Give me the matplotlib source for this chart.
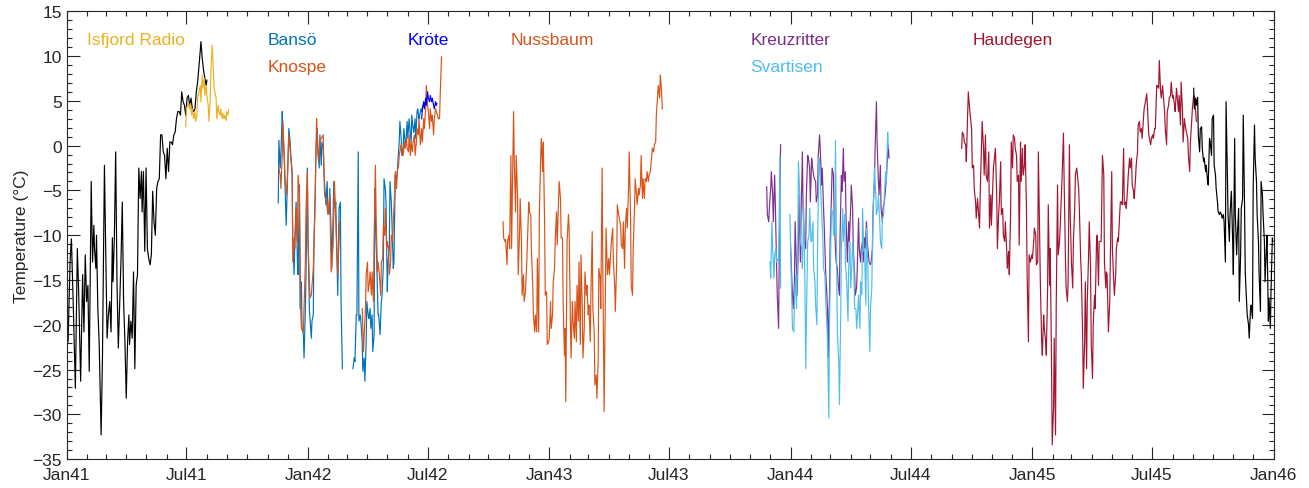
import numpy as np
import matplotlib
matplotlib.use('Agg')
import matplotlib.pyplot as plt
import matplotlib.dates as mdates
from matplotlib.ticker import MultipleLocator

plt.rcParams['font.family'] = ['Liberation Sans', 'DejaVu Sans']

# day numbers counted from 1941-01-01, temperatures in degC
nan = np.nan

isfjord_black_days = [2, 5, 7, 10, 13, 16, 18, 21, 24, 26, 28, 30, 32, 34, 37, 39, 41, 42, 44, 45,
                      47, 49, 52, 54, 57, 61, 63, 65, 67, 69, 70, 72, 74, 76, 78, 82, 84, 86, 88, 90,
                      92, 94, 95, 97, 99, 101, 103, 105, 107, 109, 111, 113, 114, 116, 118, 120, 122, 124, 126, 128,
                      130, 132, 134, 136, 138, 140, 142, 144, 146, 148, 150, 152, 154, 156, 158, 160, 162, 164, 166, 168,
                      170, 172, 174, 176, 178, 180, 182, 184, 186, 188, 190, 192, 194, 196, 198, 201, 203, 205, 207, 209,
                      211, 212]
isfjord_black_temp = [-21.9, -13.0, -10.4, -18.2, -27.1, -11.5, -16.3, -26.3, -14.4, -20.8, -12.2, -17.4, -15.6, -25.2, -4.0, -13.0, -8.9, -11.5, -13.7, -10.0,
                      -18.2, -21.9, -32.3, -23.7, -2.2, -21.5, -18.9, -17.4, -20.8, -10.3, -15.2, -10.3, -0.7, -15.2, -22.6, -13.0, -6.3, -17.4, -21.9, -28.2,
                      -21.9, -18.9, -22.2, -19.6, -21.5, -14.1, -24.9, -15.6, -14.4, -2.5, -5.9, -2.9, -7.4, -2.9, -11.8, -2.5, -11.5, -12.6, -13.3, -12.2,
                      -5.1, -8.5, -10.0, -4.8, -4.0, -3.7, 1.2, 1.2, -0.7, -1.1, -3.7, -0.3, -2.9, 0.4, 0.4, 0.1, 1.2, 1.5, 3.0, 3.8,
                      3.8, 3.4, 6.0, 4.9, 4.5, 3.4, 5.3, 5.6, 4.5, 5.3, 4.1, 3.8, 4.1, 6.0, 7.1, 9.7, 11.6, 9.7, 8.4, 7.5,
                      6.7, 7.3]

isfjord_days = [180, 181, 183, 184, 186, 187, 189, 190, 192, 194, 195, 197, 198, 200, 202, 203, 205, 206, 208, 209,
                211, 212, 214, 215, 217, 218, 220, 221, 223, 224, 226, 227, 229, 230, 232, 233, 235, 236, 238, 239,
                241, 242, 244, 245]
isfjord_temp = [2.1, 4.1, 4.5, 4.7, 4.1, 4.7, 3.4, 4.1, 3.0, 3.8, 2.7, 3.4, 5.3, 6.0, 6.7, 4.9, 7.9, 6.4, 7.5, 5.6,
                6.7, 5.6, 4.5, 2.7, 4.9, 8.2, 11.2, 9.7, 6.4, 6.0, 5.3, 3.0, 4.5, 3.8, 3.4, 4.1, 3.0, 3.6, 3.0, 3.4,
                2.8, 3.8, 3.4, 4.0]

banso_days = [320, 321, 323, 324, 326, 327, 329, 330, 332, 333, 336, 338, 339, 341, 342, 344, 345, 347, 349, 350,
              352, 353, 355, 356, 358, 359, 361, 362, 364, 365, 367, 368, 370, 371, 373, 374, 376, 377, 379, 380,
              382, 383, 385, 386, 388, 389, 391, 392, 394, 395, 397, 398, 400, 401, 403, 404, 406, 407, 409, 410,
              412, 414, 415, 417, 425,
              433, 435, 436, 438, 439, 441, 442, 444, 445, 447, 448, 450, 451, 453, 454, 456, 457, 459, 460, 462,
              463, 465, 466, 468, 469, 471, 472, 474, 476, 477, 479, 480, 482, 483, 485, 486, 488, 489, 491, 492,
              494, 495, 497, 498, 500, 501, 503, 504, 506, 507, 509, 510, 512, 513, 515, 516, 518, 519, 521, 522,
              524, 525, 527, 528, 530, 531, 533, 534, 536, 537, 539]
banso_temp = [-6.4, 0.6, -2.5, -1.1, 3.8, 1.9, -1.1, -4.0, -8.9, -6.3, 1.9, 0.4, -1.1, -2.9, -10.7, -14.4, -10.7, -6.3, -13.0, -14.4,
              -4.4, -18.2, -15.2, -20.4, -21.1, -23.7, -18.2, -14.4, -2.5, -10.0, -18.2, -19.3, -21.5, -19.6, -18.9, -10.7, -5.5, -0.3, 1.9, -0.7,
              -2.5, 1.2, -2.2, 0.4, -0.3, -2.9, -5.5, -6.6, -4.0, -7.0, -7.7, -4.8, -10.0, -13.7, -7.7, -4.0, -7.0, -6.3, -13.0, -16.7,
              -7.0, -6.3, -17.4, -24.9, nan,
              -24.9, -23.7, -24.1, -18.9, -18.9, -0.7, -19.6, -18.9, -19.6, -21.9, -25.2, -23.7, -26.3, -21.9, -17.4, -18.9, -19.3, -18.2, -20.4, -18.9,
              -23.0, -21.1, -4.8, -10.7, -13.0, -18.9, -18.9, -21.1, -17.4, -16.7, -13.3, -3.7, -4.8, -6.3, -16.3, -13.0, -11.5, -4.0, -6.3, -8.5,
              -13.7, -13.0, -3.3, -4.0, -3.3, -1.8, 0.4, 2.7, 0.8, -1.1, -0.3, 1.9, 0.4, 0.1, 2.7, 0.8, 3.0, 1.9, 0.4, 3.4,
              1.9, 1.5, 3.0, 0.8, 3.8, 4.1, 3.0, 3.4, 4.1, 3.8, 4.5]

knospe_days = [321, 323, 324, 326, 327, 329, 330, 333, 336, 339, 341, 342, 344, 345, 347, 349, 350, 352, 354, 355,
               358, 359, 361, 362, 364, 365, 368, 370, 373, 375, 378, 379, 381, 383, 385, 388, 390, 393, 395, 398,
               400, 403, 405, 408, 410, 413, 430,
               447, 449, 450, 452, 453, 455, 456, 458, 459, 461, 462, 464, 465, 467, 468, 470, 471, 473, 475, 476,
               478, 479, 481, 482, 484, 485, 487, 488, 490, 491, 493, 494, 496, 497, 499, 500, 502, 503, 505, 506,
               508, 509, 511, 512, 514, 515, 517, 518, 520, 521, 523, 524, 526, 527, 529, 530, 532, 533, 535, 537,
               538, 540, 541, 543, 544, 546, 547, 549, 550, 552, 553, 555, 556, 558, 559, 561, 562, 564, 565, 567]
knospe_temp = [-2.5, -3.3, -4.8, -1.1, 2.7, -1.1, -3.3, -5.5, 1.2, -1.4, -3.3, -13.0, -10.3, -11.5, -7.0, -10.7, -3.3, -5.5, -18.5, -20.4,
               -20.8, -18.2, -13.0, -7.0, -2.9, -10.7, -17.0, -16.7, -13.7, -8.5, 3.0, 0.8, -1.8, 0.4, 0.8, 1.2, -5.5, -6.3, -7.7, -5.5,
               -14.1, -11.1, -4.0, -10.7, -14.4, -8.5, nan,
               -18.2, -23.0, -21.1, -18.2, -14.4, -13.0, -16.3, -15.2, -14.1, -16.7, -14.1, -17.4, -10.7, -2.2, -7.7, -14.1, -13.0, -14.4, -16.7, -13.0,
               -12.6, -8.9, -10.0, -7.0, -11.5, -10.7, -11.5, -14.4, -13.0, -10.0, -10.7, -8.5, -5.5, -2.9, -4.8, -2.9, -2.2, -1.1, -0.3, 0.1,
               -1.1, -1.1, 0.4, -0.3, 0.8, -0.3, -0.7, 1.2, -1.1, 0.4, -0.7, 0.4, 1.2, -1.1, 0.4, 1.9, 1.2, 3.0, 0.1, 1.9,
               0.4, 3.0, 1.9, 4.1, 6.7, 4.5, 3.8, 1.9, 4.1, 2.7, 3.4, 1.2, 3.0, 4.1, 3.8, 3.4, 3.0, 3.0, 5.6, 9.9]

krote_days = [537, 538, 540, 541, 543, 544, 546, 547, 549, 550, 552, 553, 555, 556, 558, 559, 560]
krote_temp = [3.0, 4.1, 4.9, 4.1, 5.3, 4.5, 6.0, 5.3, 4.9, 5.6, 4.9, 5.3, 4.5, 4.1, 4.9, 4.5, 4.7]

nussbaum_days = [660, 661, 663, 664, 666, 667, 669, 670, 672, 673, 675, 676, 677, 679, 680, 682, 683, 685, 686, 688,
                 689, 691, 692, 694, 696, 697, 699, 700, 702, 703, 705, 706, 708, 709, 711, 712, 714, 715, 717, 718,
                 720, 721, 723, 724, 726, 727, 729, 730, 732, 733, 735, 736, 738, 739, 741, 742, 744, 745, 747, 748,
                 750, 751, 753, 754, 755, 757, 759, 760, 762, 763, 765, 766, 768, 769, 771, 772, 774, 775, 777, 778,
                 780, 781, 783, 784, 786, 787, 789, 790, 792, 793, 795, 796, 798, 799, 801, 802, 804, 805, 807, 808,
                 810, 811, 813, 815, 816, 818, 820, 821, 823, 824, 826, 827, 829, 830, 832, 833, 835, 836, 838, 839,
                 841, 842, 844, 845, 847, 848, 850, 851, 853, 854, 856, 857, 859, 860, 862, 863, 865, 866, 868, 869,
                 871, 872, 874, 875, 877, 878, 880, 881, 883, 885, 886, 888, 889, 891, 892, 894, 895, 897, 898, 900,
                 901]
nussbaum_temp = [-8.5, -10.3, -10.7, -10.5, -13.3, -10.7, -10.0, -11.5, -1.1, -11.5, -1.4, 3.8, -1.4, -7.4, -1.1, -5.5, -14.4, -10.0, -5.9, -10.7,
                 -16.7, -14.4, -17.4, -16.3, -13.0, -10.7, -6.3, -7.4, -7.7, -11.5, -15.6, -18.9, -20.8, -18.9, -20.8, -12.6, -20.8, -7.7, -1.4, 0.8,
                 -2.9, 0.4, -8.9, -16.7, -16.3, -22.2, -21.9, -21.5, -17.4, -20.4, -18.9, -15.2, -13.7, -10.7, -7.4, -11.1, -6.6, -4.0, -5.9, -10.3,
                 -10.3, -17.4, -23.4, -20.4, -28.6, -10.7, -7.7, -9.2, -19.6, -23.7, -17.4, -19.6, -21.5, -17.4, -21.9, -15.6, -19.6, -13.0, -22.2, -12.2,
                 -18.2, -23.7, -20.4, -14.1, -16.7, -15.6, -18.9, -17.8, -21.9, -16.7, -9.6, -18.2, -20.8, -26.7, -25.6, -28.2, -24.1, -13.7, -14.8, -18.2,
                 -2.5, -13.0, -29.7, -15.6, -9.2, -14.4, -12.6, -14.4, -11.8, -10.7, -9.2, -13.0, -15.6, -18.5, -13.0, -6.6, -7.7, -8.1, -8.9, -11.1,
                 -11.5, -8.5, -13.7, -9.2, -7.0, -9.2, -4.8, -0.7, -7.7, -15.6, -16.7, -11.5, -7.0, -3.7, -5.5, -6.6, -4.8, -5.5, -4.4, -1.1,
                 -5.9, -3.7, -5.9, -3.7, -4.0, -2.9, -4.0, -3.3, -2.9, -1.1, -0.3, -0.7, 0.1, 0.4, 3.4, 5.6, 6.7, 5.3, 7.9, 6.0,
                 4.1]

kreuz_days = [1059, 1060, 1062, 1063, 1065, 1066, 1068, 1069, 1071, 1072, 1074, 1075, 1077, 1078, 1080, 1088,
              1095, 1096, 1098, 1099, 1101, 1102, 1104, 1105, 1107, 1108, 1110, 1111, 1113, 1114, 1116, 1118, 1119, 1121, 1122, 1124,
              1125, 1127, 1128, 1130, 1131, 1133, 1134, 1136, 1137, 1139, 1140, 1142, 1143, 1145, 1146, 1148, 1149, 1151, 1152, 1154,
              1155, 1157, 1158, 1160, 1161, 1163, 1164, 1166, 1167, 1169, 1170, 1172, 1173, 1175, 1176, 1178, 1179, 1181, 1183, 1184,
              1186, 1187, 1189, 1190, 1192, 1193, 1195, 1196, 1198, 1199, 1201, 1202, 1204, 1205, 1207, 1208, 1210, 1211, 1213, 1214,
              1216, 1217, 1219, 1220, 1222, 1223, 1225, 1226, 1228, 1229, 1231, 1232, 1234, 1235, 1237, 1238, 1240, 1241, 1243, 1244]
kreuz_temp = [-4.6, -7.7, -8.5, -7.0, -4.8, -2.9, -5.5, -8.5, -3.3, -6.3, -13.7, -16.7, -20.4, -11.5, 0.1, nan,
              -11.1, -13.0, -16.7, -18.2, -15.2, -8.5, -13.7, -16.7, -10.7, -5.5, -13.0, -7.7, -0.7, -7.0, -10.7, -11.5, -5.5, -1.1, -1.4, -2.5,
              -6.3, -1.4, -2.2, -3.3, -3.7, -4.0, -6.3, -5.5, -1.1, 1.2, -0.3, -4.4, -2.5, -7.0, -8.9, -13.7, -15.2, -18.2, -23.7, -16.7,
              -10.7, -5.5, -2.5, -3.3, -7.7, -11.5, -13.0, -13.7, -15.2, -16.7, -10.0, -3.3, -5.1, -0.3, -4.0, -2.9, -8.1, -13.0, -8.5, -10.7,
              -7.0, -4.4, -7.0, -11.5, -14.4, -16.7, -15.9, -13.7, -8.1, -11.5, -13.0, -11.5, -10.7, -13.0, -10.3, -11.5, -8.5, -10.7, -12.2, -13.0,
              -13.3, -13.0, -11.5, -7.0, -4.0, -0.3, 4.9, 0.4, -4.0, -5.5, -2.2, -7.0, -8.5, -7.0, -6.3, -5.5, -3.7, -2.2, 0.1, -1.4]

svart_days = [1064, 1065, 1067, 1068, 1070, 1071, 1073, 1074, 1076, 1077, 1079, 1080, 1087,
              1094, 1095, 1097, 1098, 1100, 1101, 1103, 1104, 1106, 1107, 1109, 1110, 1112, 1113, 1115, 1117, 1118, 1120, 1121, 1123,
              1124, 1126, 1127, 1129, 1130, 1132, 1133, 1135, 1136, 1138, 1139, 1141, 1142, 1144, 1145, 1147, 1148, 1150, 1151, 1153,
              1154, 1156, 1157, 1159, 1160, 1162, 1163, 1165, 1166, 1168, 1169, 1171, 1172, 1174, 1175, 1177, 1178, 1180, 1182, 1183,
              1185, 1186, 1188, 1189, 1191, 1192, 1194, 1195, 1197, 1198, 1200, 1201, 1203, 1204, 1206, 1207, 1209, 1210, 1212, 1213,
              1215, 1216, 1218, 1219, 1221, 1222, 1224, 1225, 1227, 1228, 1230, 1231, 1233, 1234, 1236, 1237, 1239, 1240, 1242, 1243]
svart_temp = [-13.0, -14.8, -8.5, -11.5, -14.8, -12.2, -11.5, -13.0, -12.6, -13.0, -1.1, -15.9, nan,
              -7.7, -10.7, -17.4, -20.4, -20.8, -17.4, -14.4, -18.2, -11.5, -1.8, -5.5, -10.7, -11.5, -13.7, -7.0, -16.3, -24.9, -15.2, -10.7, -10.0,
              -7.0, -10.7, -10.7, -8.5, -13.7, -15.2, -17.8, -20.0, -10.7, -1.4, -2.2, -5.5, -7.0, -10.7, -13.7, -14.4, -16.7, -20.0, -21.9, -30.4,
              -20.0, -10.7, -7.0, -7.7, -10.0, -10.0, 0.6, -14.4, -21.1, -24.1, -28.9, -18.9, -11.5, -7.0, -10.7, -7.7, -13.0, -15.2, -19.6, -13.7,
              -10.7, -15.9, -13.0, -10.7, -13.7, -18.2, -18.2, -20.4, -18.2, -16.7, -20.4, -15.2, -16.7, -7.0, -11.8, -11.5, -17.8, -9.2, -13.7, -17.4,
              -23.0, -18.2, -15.9, -10.7, -4.8, -2.5, -5.5, -7.7, -7.0, -5.5, -8.5, -10.7, -11.5, -8.1, -7.7, -5.5, -2.9, -4.0, 1.5, -0.3]

haudegen_days = [1354, 1355, 1357, 1358, 1360, 1361, 1363, 1364, 1366, 1367, 1369, 1370, 1372, 1373, 1375, 1376, 1378, 1379, 1381, 1382,
                 1384, 1385, 1387, 1388, 1390, 1391, 1393, 1395, 1396, 1398, 1399, 1401, 1402, 1404, 1405, 1407, 1408, 1410, 1411, 1413,
                 1414, 1416, 1417, 1419, 1420, 1422, 1423, 1425, 1426, 1428, 1429, 1431, 1432, 1434, 1435, 1437, 1438, 1440, 1441, 1443,
                 1444, 1446, 1447, 1449, 1450, 1452, 1453, 1455, 1456, 1458, 1460, 1461, 1463, 1464, 1466, 1467, 1469, 1470, 1472, 1473,
                 1475, 1476, 1478, 1479, 1481, 1482, 1484, 1485, 1487, 1488, 1490, 1491, 1493, 1494, 1496, 1497, 1499, 1500, 1502, 1503,
                 1505, 1506, 1508, 1509, 1511, 1512, 1514, 1515, 1517, 1518, 1520, 1522, 1523, 1525, 1526, 1528, 1529, 1531, 1532, 1534,
                 1535, 1537, 1538, 1540, 1541, 1543, 1544, 1546, 1547, 1549, 1550, 1552, 1553, 1555, 1556, 1558, 1559, 1561, 1562,
                 1565, 1567, 1569, 1570, 1572, 1573, 1574, 1576, 1578, 1579, 1581, 1582, 1584, 1585, 1587, 1588, 1590, 1591, 1593, 1594,
                 1596, 1597, 1599, 1600, 1602, 1603, 1605, 1606, 1608, 1609, 1611, 1612, 1614, 1615, 1617, 1618, 1620, 1621, 1623, 1624,
                 1626, 1627, 1629, 1630, 1632, 1634, 1635, 1637, 1638, 1640, 1641, 1643, 1644, 1646, 1647, 1649, 1650, 1652, 1653, 1655,
                 1656, 1658, 1659, 1661, 1662, 1664, 1665, 1667, 1668, 1670, 1671, 1673, 1674, 1676, 1677, 1679, 1680, 1682, 1683, 1685,
                 1686, 1688, 1689, 1691, 1692, 1694, 1696, 1697, 1699, 1700, 1702, 1703, 1705, 1706, 1708, 1709]
haudegen_temp = [-0.3, 1.5, 1.2, 0.4, 0.1, -1.8, 3.4, 6.0, 4.1, 3.4, 1.9, -2.5, -2.2, -4.8, -6.3, -8.1, -5.9, -7.0, -9.2, -5.5,
                 -0.3, 2.7, -0.3, -3.3, 1.2, -3.3, -4.0, -0.7, -9.2, -5.5, -8.9, -4.8, -2.5, -1.1, -0.3, -5.5, -11.5, -7.4, -6.3, -1.8,
                 -7.7, -7.0, -10.0, -10.7, -8.5, -11.5, -13.7, -11.8, -14.4, -7.7, 0.4, -2.5, 1.2, 0.8, -0.3, -1.1, -4.0, -3.3, -11.1, 0.4,
                 -4.0, -0.3, -3.3, -2.2, 0.1, -7.0, -14.4, -21.9, -12.2, -13.0, -12.2, -12.6, -10.7, -9.2, -10.0, -13.3, -13.0, -0.7, -10.7, -15.2,
                 -21.9, -23.4, -18.9, -20.4, -21.9, -23.4, -15.9, -6.6, -15.6, -11.5, -24.9, -33.4, -29.3, -21.5, -32.3, -18.2, -4.4, -12.2, -10.7, -9.2,
                 -5.1, -3.3, 1.4, -4.0, -12.6, -15.9, -17.4, -15.2, 0.1, -7.0, -13.0, -15.9, -10.7, -7.0, -3.3, -2.5, -3.3, -4.8, -7.0, -12.6,
                 -14.4, -21.1, -27.1, -21.9, -15.2, -24.9, -17.4, -12.2, -8.5, -13.7, -22.2, -26.0, -20.0, -16.7, -18.2, -10.7, -10.0, -15.6, -10.7,
                 -10.7, -1.1, -3.3, -13.0, -15.9, -14.1, -14.4, -20.8, -17.4, -12.2, -2.9, -11.5, -15.2, -16.7, -14.4, -11.5, -10.3, -10.7, -7.7, -6.3,
                 -6.3, -6.6, -0.3, -6.6, -6.3, -7.0, -4.8, -3.3, -1.4, -2.5, -1.4, -4.4, -5.1, -5.9, -3.7, -2.2, -0.7, 2.3, 2.7, 1.5,
                 1.9, 0.8, 3.0, 4.1, 4.9, 5.8, 4.5, 1.2, 0.8, 0.1, 0.8, 1.2, 0.8, 1.9, 1.9, 6.7, 6.7, 6.4, 9.5, 6.0,
                 5.3, 6.7, 5.6, 3.8, 1.9, 0.1, 3.8, 4.5, 5.3, 5.6, 7.1, 5.3, 5.6, 4.5, 3.8, 6.4, 5.6, 3.8, 5.6, 2.3,
                 7.1, 4.1, 0.4, 3.0, 2.3, 1.5, 0.8, -1.1, -2.9, 0.4, 2.7, 4.1, 5.6, 5.3, 3.8, 2.7]

late45_days = [1705, 1706, 1708, 1709, 1711, 1712, 1714, 1715, 1717, 1718, 1720, 1721, 1723, 1724, 1726, 1727, 1729, 1730, 1732, 1733,
               1735, 1736, 1738, 1739, 1741, 1742, 1744, 1745, 1747, 1748, 1750, 1751, 1753, 1754, 1756, 1757, 1759, 1760, 1762, 1764,
               1765, 1767, 1768, 1770, 1771, 1773, 1774, 1776, 1777, 1779, 1780, 1782, 1783, 1785, 1786, 1788, 1789, 1791, 1792, 1794,
               1795, 1797, 1798, 1800, 1801, 1803, 1804, 1806, 1807, 1809, 1810, 1812, 1813, 1815, 1816, 1818, 1819, 1821, 1822, 1824,
               1825]
late45_temp = [6.4, 4.1, 5.3, 4.5, 5.4, 1.2, -0.7, 1.9, 2.1, -0.3, -1.8, -1.4, -2.9, -2.2, -4.0, -4.4, 0.8, 0.4, -1.1, 3.0,
               3.4, -2.2, -3.3, -4.8, -6.3, -7.4, -7.7, -7.4, -7.7, -8.1, -7.7, -8.5, -13.0, 4.9, -3.3, -7.7, -10.7, -7.7, -5.1, -10.7,
               -14.4, 0.8, -7.7, -12.2, -10.0, -7.0, -17.4, -12.2, -7.0, -5.9, 3.4, -7.0, -14.1, -17.4, -18.9, -20.0, -21.5, -18.2, -17.8, -19.3,
               -4.8, 2.3, -1.4, -4.0, -7.7, -10.7, -14.4, -18.5, -4.0, -5.5, -7.7, -10.7, -15.2, -11.5, -10.0, -19.6, -17.0, -20.4, -16.3, -10.3,
               -10.7]

labels = [('Isfjord Radio', '1941-02-01', 11.8, '#EDB120'),
          ('Bansö', '1941-11-01', 11.8, '#0072BD'),
          ('Knospe', '1941-11-01', 8.8, '#D95319'),
          ('Kröte', '1942-05-31', 11.8, '#0000FF'),
          ('Nussbaum', '1942-11-03', 11.8, '#D95319'),
          ('Kreuzritter', '1943-11-01', 11.8, '#7E2F8E'),
          ('Svartisen', '1943-11-01', 8.8, '#4DBEEE'),
          ('Haudegen', '1944-10-03', 11.8, '#A2142F')]

base = np.datetime64('1941-01-01')


def to_dates(days):
    return base + np.array(days, dtype='timedelta64[D]')


fig = plt.figure(figsize=(13.09, 4.89), dpi=100)
ax = fig.add_axes([0.051, 0.059, 0.922, 0.916])

lw = 0.85
series = [(isfjord_black_days, isfjord_black_temp, '#000000'),
          (isfjord_days, isfjord_temp, '#EDB120'),
          (banso_days, banso_temp, '#0072BD'),
          (knospe_days, knospe_temp, '#D95319'),
          (krote_days, krote_temp, '#0000FF'),
          (nussbaum_days, nussbaum_temp, '#D95319'),
          (kreuz_days, kreuz_temp, '#7E2F8E'),
          (svart_days, svart_temp, '#4DBEEE'),
          (haudegen_days, haudegen_temp, '#A2142F'),
          (late45_days, late45_temp, '#000000')]
for d, t, c in series:
    ax.plot(to_dates(d), t, color=c, lw=lw)

for name, day, y, c in labels:
    ax.text(np.datetime64(day), y, name, color=c, fontsize=12.5, va='center', ha='left')

ax.set_xlim(np.datetime64('1941-01-01'), np.datetime64('1946-01-01'))
ax.set_ylim(-35, 15)
ax.xaxis.set_major_locator(mdates.MonthLocator(bymonth=[1, 7]))
ax.xaxis.set_minor_locator(mdates.MonthLocator())
ax.xaxis.set_major_formatter(mdates.DateFormatter('%b%y'))
ax.yaxis.set_major_locator(MultipleLocator(5))
ax.yaxis.set_minor_locator(MultipleLocator(1))

gray = '#262626'
ax.tick_params(which='both', direction='in', top=True, right=True, colors=gray, labelsize=12.5)
ax.tick_params(which='major', length=9, width=0.8)
ax.tick_params(which='minor', length=3.5, width=0.8)
ax.tick_params(axis='x', pad=6)
for s in ax.spines.values():
    s.set_color(gray)
    s.set_linewidth(0.8)

ax.set_ylabel('Temperature (°C)', fontsize=12.5, color=gray, labelpad=2)

fig.savefig('out.png', dpi=100)
